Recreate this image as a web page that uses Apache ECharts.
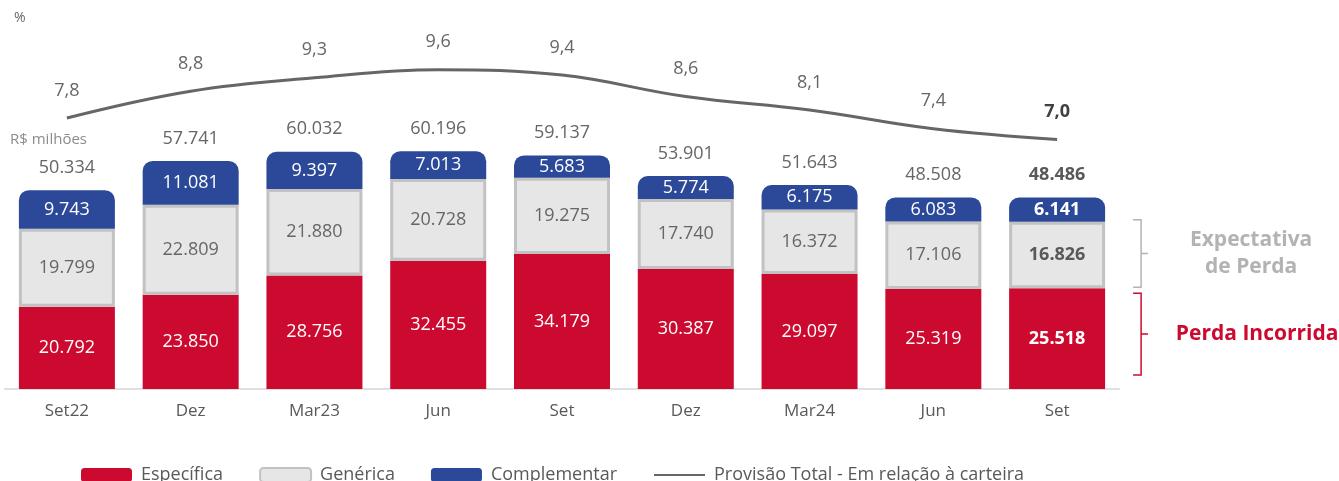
<!DOCTYPE html>
<html>
<head>
<meta charset="utf-8">
<script src="https://cdn.jsdelivr.net/npm/echarts@6/dist/echarts.min.js"></script>
<style>
  html, body { margin: 0; padding: 0; background: #fff; }
  #chart { width: 1339px; height: 481px; }
</style>
</head>
<body>
<div id="chart"></div>
<script>
// trimestres
const categorias = ['Set22', 'Dez', 'Mar23', 'Jun', 'Set', 'Dez', 'Mar24', 'Jun', 'Set'];
// R$ milhões
const especifica = [20792, 23850, 28756, 32455, 34179, 30387, 29097, 25319, 25518];
const generica = [19799, 22809, 21880, 20728, 19275, 17740, 16372, 17106, 16826];
const complementar = [9743, 11081, 9397, 7013, 5683, 5774, 6175, 6083, 6141];
const totais = [50334, 57741, 60032, 60196, 59137, 53901, 51643, 48508, 48486];
// provisão total em % da carteira
const provisao = [7.8, 8.8, 9.3, 9.6, 9.4, 8.6, 8.1, 7.4, 7.0];

const FONT = 'Open Sans';
const ultimo = categorias.length - 1;

//formato brasileiro
function fmtMil(v) {
  return String(v).replace(/\B(?=(\d{3})+(?!\d))/g, '.');
}
function fmtPct(v) {
  return v.toFixed(1).replace('.', ',');
}

let chart = echarts.init(document.getElementById('chart'), null, { renderer: 'canvas' });

let option = {
  backgroundColor: '#ffffff',
  animation: false,
  textStyle: { fontFamily: FONT },
  legend: {
    data: ['Específica', 'Genérica', 'Complementar', 'Provisão Total - Em relação à carteira'],
    left: 76,
    top: 461,
    itemWidth: 51,
    itemHeight: 14,
    itemGap: 36,
    textStyle: { fontFamily: FONT, fontSize: 18, color: '#595959', padding: [0, 0, 0, 4] }
  },
  grid: [
    { left: 5, right: 220, top: 73, bottom: 92 },
    { left: 5, right: 220, top: 59, bottom: 288 }
  ],
  xAxis: [{
    type: 'category',
    gridIndex: 0,
    data: categorias,
    axisLine: { lineStyle: { color: '#e0e0e0', width: 2 } },
    axisTick: { show: false },
    axisLabel: { fontFamily: FONT, fontSize: 17, color: '#595959', margin: 14 }
  }, {
    type: 'category',
    gridIndex: 1,
    data: categorias,
    show: false
  }],
  yAxis: [{
    type: 'value',
    gridIndex: 0,
    min: 0,
    max: 80000,
    show: false
  }, {
    type: 'value',
    gridIndex: 1,
    min: 5,
    max: 10,
    show: false
  }],
  series: [{
    name: 'Específica',
    type: 'bar',
    stack: 'pdd',
    barWidth: 96,
    data: especifica,
    itemStyle: { color: '#cc0a2f' },
    label: {
      show: true,
      position: 'inside',
      color: '#ffffff',
      fontFamily: FONT,
      fontSize: 18,
      formatter: p => fmtMil(p.value)
    }
  }, {
    name: 'Genérica',
    type: 'bar',
    stack: 'pdd',
    data: generica,
    itemStyle: { color: '#e6e6e6', borderColor: '#c2c2c2', borderWidth: 3 },
    label: {
      show: true,
      position: 'inside',
      color: '#666666',
      fontFamily: FONT,
      fontSize: 18,
      formatter: p => fmtMil(p.value)
    }
  }, {
    name: 'Complementar',
    type: 'bar',
    stack: 'pdd',
    data: complementar,
    itemStyle: { color: '#2b4899', borderRadius: [10, 10, 0, 0] },
    label: {
      show: true,
      position: 'inside',
      color: '#ffffff',
      fontFamily: FONT,
      fontSize: 18,
      formatter: p => fmtMil(p.value)
    }
  }, {
    //totais acima das barras
    name: 'Total',
    type: 'line',
    data: totais,
    symbol: 'circle',
    symbolSize: 1,
    itemStyle: { color: 'rgba(0,0,0,0)' },
    lineStyle: { opacity: 0 },
    silent: true,
    label: {
      show: true,
      position: 'top',
      distance: 13,
      color: '#666666',
      fontFamily: FONT,
      fontSize: 18,
      formatter: p => fmtMil(p.value)
    }
  }, {
    name: 'Provisão Total - Em relação à carteira',
    type: 'line',
    xAxisIndex: 1,
    yAxisIndex: 1,
    data: provisao,
    smooth: 0.4,
    symbol: 'circle',
    symbolSize: 1,
    itemStyle: { color: 'rgba(0,0,0,0)' },
    lineStyle: { color: '#666666', width: 3 },
    label: {
      show: true,
      position: 'top',
      distance: 18,
      color: '#666666',
      fontFamily: FONT,
      fontSize: 18,
      formatter: p => fmtPct(p.value)
    }
  }]
};

//última coluna em negrito
[0, 1, 2, 3].forEach(i => {
  let s = option.series[i];
  let vals = s.data;
  s.data = vals.map((v, k) => k === ultimo
    ? { value: v, label: { fontWeight: 'bold', color: i === 1 || i === 3 ? '#595959' : '#ffffff' } }
    : v);
});
option.series[4].data = provisao.map((v, k) => k === ultimo
  ? { value: v, label: { fontWeight: 'bold', color: '#404040' } }
  : v);

chart.setOption(option);

//chaves e textos à direita, posicionados pela escala
function desenharChaves() {
  let x = chart.convertToPixel({ xAxisIndex: 0 }, ultimo) + 84;
  let y0 = chart.convertToPixel({ yAxisIndex: 0 }, 0);
  let y1 = chart.convertToPixel({ yAxisIndex: 0 }, especifica[ultimo]);
  let y2 = chart.convertToPixel({ yAxisIndex: 0 }, especifica[ultimo] + generica[ultimo]);

  function chave(top, bottom, color) {
    let mid = (top + bottom) / 2;
    return {
      type: 'polyline',
      silent: true,
      shape: { points: [[x - 8, top], [x, top], [x, mid], [x + 7, mid], [x, mid], [x, bottom], [x - 8, bottom]] },
      style: { stroke: color, lineWidth: 1.5, fill: null }
    };
  }

  let gTop = y2 - 2, gBot = y1 - 1;
  let rTop = y1 + 5, rBot = y0 - 14;

  chart.setOption({
    graphic: [
      chave(gTop, gBot, '#b3b3b3'),
      chave(rTop, rBot, '#cc0a2f'),
      {
        type: 'text', silent: true,
        style: {
          x: x + 110, y: (gTop + gBot) / 2, text: 'Expectativa\nde Perda',
          align: 'center', verticalAlign: 'middle', lineHeight: 27,
          font: 'bold 21px "Open Sans"', fill: '#b3b3b3'
        }
      },
      {
        type: 'text', silent: true,
        style: {
          x: x + 116, y: (rTop + rBot) / 2, text: 'Perda Incorrida',
          align: 'center', verticalAlign: 'middle',
          font: 'bold 21px "Open Sans"', fill: '#cc0a2f'
        }
      },
      {
        type: 'text', silent: true,
        style: { x: 14, y: 11, text: '%', font: '14px "Open Sans"', fill: '#666666' }
      },
      {
        type: 'text', silent: true,
        style: { x: 10, y: 132, text: 'R$ milhões', font: '15px "Open Sans"', fill: '#8c8c8c' }
      }
    ]
  });
}
desenharChaves();
</script>
</body>
</html>
